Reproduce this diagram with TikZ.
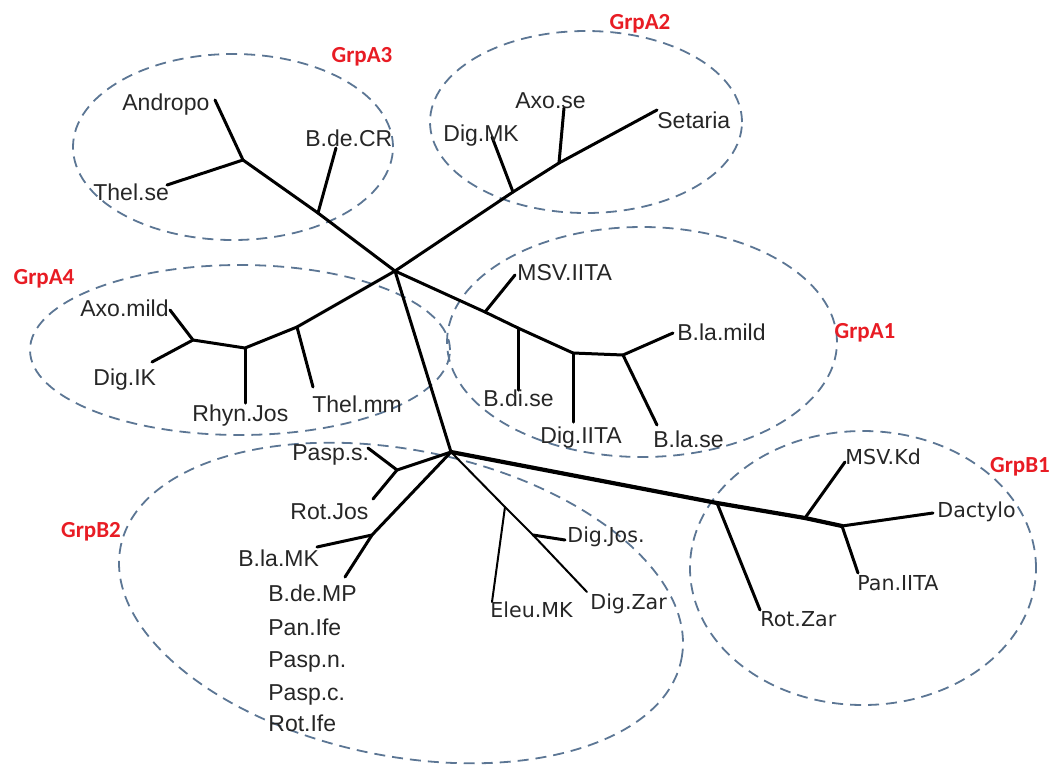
\documentclass[tikz,border=0pt]{standalone}
\usepackage{fontspec}
\setmainfont{Liberation Sans}
\newfontfamily\dvsans{DejaVu Sans}
\newfontfamily\grpfont{Carlito}
\definecolor{grpred}{RGB}{232,28,36}
\definecolor{ellc}{RGB}{92,118,148}
\begin{document}
\begin{tikzpicture}[x=0.5pt,y=-0.5pt,
 lbl/.style={inner sep=0pt, anchor=west, font=\fontsize{11.5}{13}\selectfont, text height=8.2pt, text depth=0pt, text=black!85},
 lblb/.style={inner sep=0pt, anchor=west, font=\dvsans\fontsize{10.3}{12}\selectfont, text height=7.5pt, text depth=0pt, text=black!85},
 grp/.style={inner sep=0pt, font=\grpfont\bfseries\fontsize{11.5}{13}\selectfont, text=grpred, text height=7.2pt, text depth=0pt},
 br/.style={line width=1.5pt, line cap=round, line join=round},
 brthin/.style={line width=1pt, line cap=round, line join=round},
 brthick/.style={line width=2.1pt, line cap=round, line join=round},
 ell/.style={draw=ellc, line width=0.9pt, dash pattern=on 5.5pt off 3.5pt}]
\useasboundingbox (0,0) rectangle (1056,767);

% group ellipses
\draw[ell] (233,147) ellipse [x radius=80pt, y radius=46.5pt];
\draw[ell] (586,122) ellipse [x radius=78pt, y radius=45.5pt];
\draw[ell] (240,350) ellipse [x radius=105pt, y radius=42.5pt];
\draw[ell] (642,342) ellipse [x radius=97.5pt, y radius=57.5pt];
\draw[ell, rotate around={-11.4:(401,603)}] (401,603) ellipse [x radius=143pt, y radius=76.5pt];
\draw[ell] (863,568) ellipse [x radius=86.5pt, y radius=68.5pt];

% internal nodes and tips
\coordinate (R) at (395,271);
\coordinate (J) at (451,452);
% A3
\coordinate (a3a) at (318,213);
\coordinate (a3b) at (243,160);
\coordinate (tAndropo) at (215,100);
\coordinate (tThelse) at (167,185);
\coordinate (tBdeCR) at (336,148);
% A2
\coordinate (a2a) at (513,192);
\coordinate (a2b) at (559,163);
\coordinate (tSetaria) at (657,110);
\coordinate (tDigMK) at (492,137);
\coordinate (tAxose) at (564,108);
% A4
\coordinate (a4a) at (297,327);
\coordinate (a4b) at (245,348);
\coordinate (a4c) at (193,340);
\coordinate (tAxomild) at (170,310);
\coordinate (tDigIK) at (152,362);
\coordinate (tRhyn) at (245,403);
\coordinate (tThelmm) at (313,387);
% A1
\coordinate (a1a) at (485,312);
\coordinate (a1b) at (518,328);
\coordinate (a1c) at (573,353);
\coordinate (a1d) at (623,355);
\coordinate (tMSVIITA) at (515,275);
\coordinate (tBdise) at (518,390);
\coordinate (tDigIITA) at (573,422);
\coordinate (tBlamild) at (673,333);
\coordinate (tBlase) at (657,425);
% B2
\coordinate (b2a) at (397,470);
\coordinate (tPasps) at (368,448);
\coordinate (tRotJos) at (373,499);
\coordinate (b2b) at (372,535);
\coordinate (tBlaMK) at (317,547);
\coordinate (tBdeMP) at (345,577);
\coordinate (b2c) at (505,507);
\coordinate (b2d) at (533,535);
\coordinate (tEleu) at (492,602);
\coordinate (tDigJos) at (565,540);
\coordinate (tDigZar) at (587,592);
% B1
\coordinate (b1a) at (717,503);
\coordinate (b1b) at (805,518);
\coordinate (b1c) at (842,526);
\coordinate (tRotZar) at (760,610);
\coordinate (tMSVKd) at (845,462);
\coordinate (tDactylo) at (933,513);
\coordinate (tPanIITA) at (858,573);

% branches
\draw[br] (R) -- (a3a) -- (a3b) -- (tAndropo);
\draw[br] (a3b) -- (tThelse);
\draw[br] (a3a) -- (tBdeCR);
\draw[br] (R) -- (a2a) -- (a2b) -- (tSetaria);
\draw[br] (a2a) -- (tDigMK);
\draw[br] (a2b) -- (tAxose);
\draw[br] (R) -- (a4a) -- (a4b) -- (a4c) -- (tAxomild);
\draw[br] (a4c) -- (tDigIK);
\draw[br] (a4b) -- (tRhyn);
\draw[br] (a4a) -- (tThelmm);
\draw[br] (R) -- (a1a) -- (a1b) -- (a1c) -- (a1d) -- (tBlamild);
\draw[br] (a1a) -- (tMSVIITA);
\draw[br] (a1b) -- (tBdise);
\draw[br] (a1c) -- (tDigIITA);
\draw[br] (a1d) -- (tBlase);
\draw[br] (R) -- (J);
\draw[br] (J) -- (b2a) -- (tPasps);
\draw[br] (b2a) -- (tRotJos);
\draw[br] (J) -- (b2b) -- (tBlaMK);
\draw[br] (b2b) -- (tBdeMP);
\draw[brthin] (J) -- (b2c) -- (b2d) -- (tDigZar);
\draw[brthin] (b2c) -- (tEleu);
\draw[br] (b2d) -- (tDigJos);
\draw[brthick] (J) -- (b1a) -- (b1b) -- (b1c);
\draw[br] (b1c) -- (tDactylo);
\draw[br] (b1a) -- (tRotZar);
\draw[br] (b1b) -- (tMSVKd);
\draw[br] (b1c) -- (tPanIITA);

% labels
\node[lbl] (lAndropo) at (122,102) {Andropo};
\node[lbl] (lThelse) at (93,192) {Thel.se};
\node[lbl] (lBdeCR) at (305,138) {B.de.CR};
\node[lbl] (lAxose) at (515,100) {Axo.se};
\node[lbl] (lDigMK) at (443,133) {Dig.MK};
\node[lbl] (lSetaria) at (657,120) {Setaria};
\node[lbl] (lAxomild) at (80,308) {Axo.mild};
\node[lbl] (lDigIK) at (93,377) {Dig.IK};
\node[lbl] (lRhyn) at (192,413) {Rhyn.Jos};
\node[lbl] (lThelmm) at (312,404) {Thel.mm};
\node[lbl] (lMSVIITA) at (517,272) {MSV.IITA};
\node[lbl] (lBlamild) at (677,332) {B.la.mild};
\node[lbl] (lBdise) at (483,398) {B.di.se};
\node[lbl] (lDigIITA) at (540,435) {Dig.IITA};
\node[lbl] (lBlase) at (653,439) {B.la.se};
\node[lbl] (lPasps) at (292,452) {Pasp.s.};
\node[lbl] (lRotJos) at (290,511) {Rot.Jos};
\node[lbl] (lBlaMK) at (238,558) {B.la.MK};
\node[lbl] (lBdeMP) at (268,593) {B.de.MP};
\node[lbl] (lPanIfe) at (268,627) {Pan.Ife};
\node[lbl] (lPaspn) at (268,659) {Pasp.n.};
\node[lbl] (lPaspc) at (268,692) {Pasp.c.};
\node[lbl] (lRotIfe) at (268,723) {Rot.Ife};
\node[lblb] (lDigJos) at (567,535) {Dig.Jos.};
\node[lblb] (lDigZar) at (590,602) {Dig.Zar};
\node[lblb] (lEleu) at (490,610) {Eleu.MK};
\node[lblb] (lMSVKd) at (845,457) {MSV.Kd};
\node[lblb] (lDactylo) at (937,510) {Dactylo};
\node[lblb] (lPanIITA) at (857,583) {Pan.IITA};
\node[lblb] (lRotZar) at (760,619) {Rot.Zar};

% group names
\node[grp] (gA3) at (362,55) {GrpA3};
\node[grp] (gA2) at (640,22) {GrpA2};
\node[grp] (gA4) at (44,277) {GrpA4};
\node[grp] (gA1) at (865,331) {GrpA1};
\node[grp] (gB2) at (91,530) {GrpB2};
\node[grp] (gB1) at (1020,465) {GrpB1};
\end{tikzpicture}
\end{document}
